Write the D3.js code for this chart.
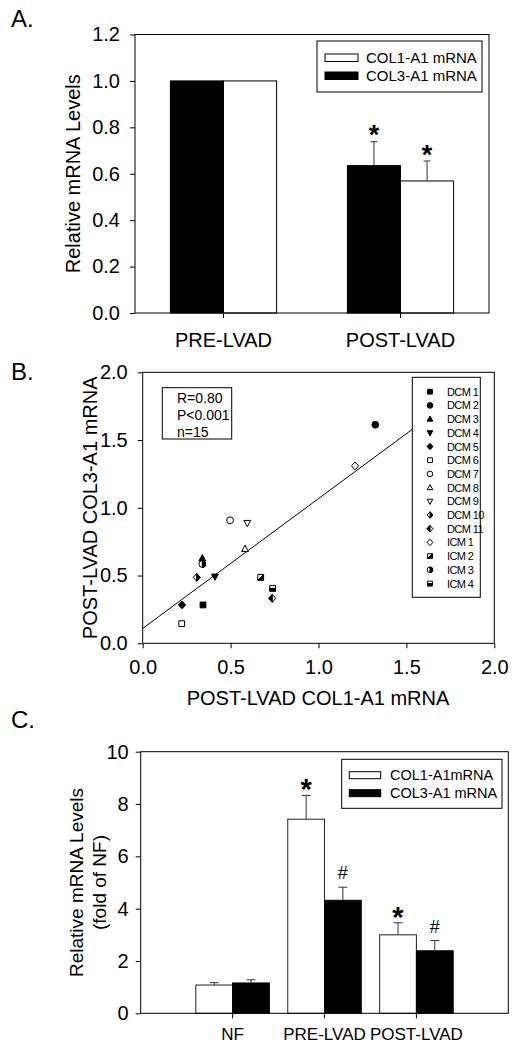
<!DOCTYPE html>
<html><head><meta charset="utf-8">
<script src="https://cdn.jsdelivr.net/npm/d3@7"></script>
<style>body{margin:0;background:#fff}svg{display:block}text{font-family:"Liberation Sans",Arial,sans-serif;fill:#000}</style>
</head><body><svg id="c" width="529" height="1050"></svg>
<script>
// ---------- Panel A data ----------
const catsA = ["PRE-LVAD", "POST-LVAD"];
const col3A = [1.0, 0.635];
const col3AErr = [0, 0.103];
const col1A = [1.0, 0.569];
const col1AErr = [0, 0.086];
const sigA3 = ["", "*"];
const sigA1 = ["", "*"];
const ticksA = [0, 0.2, 0.4, 0.6, 0.8, 1.0, 1.2];
const legendA = ["COL1-A1 mRNA", "COL3-A1 mRNA"];

// ---------- Panel B data ----------
const patients = ["DCM 1","DCM 2","DCM 3","DCM 4","DCM 5","DCM 6","DCM 7","DCM 8","DCM 9","DCM 10","DCM 11","ICM 1","ICM 2","ICM 3","ICM 4"];
const col1B = [0.343, 1.323, 0.339, 0.411, 0.224, 0.222, 0.497, 0.582, 0.595, 0.307, 0.737, 1.208, 0.671, 0.339, 0.739];
const col3B = [0.283, 1.613, 0.627, 0.492, 0.283, 0.145, 0.908, 0.696, 0.888, 0.487, 0.332, 1.309, 0.487, 0.585, 0.406];
const shapesB = ["square","circle","triangle","triangleDown","diamond","square","circle","triangle","triangleDown","diamond","diamond","diamond","square","circle","square"];
const fillsB = ["black","black","black","black","black","white","white","white","white","halfRight","halfLeft","white","lowerRight","halfRight","bottom"];
const regIntercept = 0.11, regSlope = 0.958;
const statsB = ["R=0.80", "P<0.001", "n=15"];
const ticksB = [0, 0.5, 1.0, 1.5, 2.0];

// ---------- Panel C data ----------
const catsC = ["NF", "PRE-LVAD", "POST-LVAD"];
const col1C = [1.08, 7.42, 3.0];
const col1CErr = [0.09, 0.91, 0.46];
const col3C = [1.16, 4.32, 2.39];
const col3CErr = [0.12, 0.50, 0.39];
const sigC1 = ["", "*", "*"];
const sigC3 = ["", "#", "#"];
const ticksC = [0, 2, 4, 6, 8, 10];
const legendC = ["COL1-A1mRNA", "COL3-A1 mRNA"];

const svg = d3.select("#c");

function styleAxis(g, fs) {
  g.select(".domain").remove();
  g.selectAll(".tick line").attr("stroke", "#000");
  g.selectAll(".tick text").attr("font-size", fs).attr("fill", "#000");
}
function errBar(g, x, y0, y1, cap) {
  g.append("line").attr("x1", x).attr("x2", x).attr("y1", y0).attr("y2", y1).attr("stroke", "#333");
  g.append("line").attr("x1", x - cap / 2).attr("x2", x + cap / 2).attr("y1", y1).attr("y2", y1).attr("stroke", "#333");
}

// ================= Panel A =================
{
  const L = 135, R = 489, T = 34.5, B = 313;
  const y = d3.scaleLinear().domain([0, 1.2]).range([B, T]);
  const x = d3.scaleBand().domain(catsA).range([L, R]).paddingInner(0.4).paddingOuter(0.2);
  const xs = d3.scaleBand().domain(["COL3", "COL1"]).range([0, x.bandwidth()]);
  const g = svg.append("g");
  catsA.forEach((c, i) => {
    g.append("rect").attr("x", x(c) + xs("COL3")).attr("y", y(col3A[i])).attr("width", xs.bandwidth()).attr("height", y(0) - y(col3A[i])).attr("fill", "#000").attr("stroke", "#000");
    g.append("rect").attr("x", x(c) + xs("COL1")).attr("y", y(col1A[i])).attr("width", xs.bandwidth()).attr("height", y(0) - y(col1A[i])).attr("fill", "#fff").attr("stroke", "#000");
    const cx3 = x(c) + xs("COL3") + xs.bandwidth() / 2, cx1 = x(c) + xs("COL1") + xs.bandwidth() / 2;
    if (col3AErr[i] > 0) errBar(g, cx3, y(col3A[i]), y(col3A[i] + col3AErr[i]), 7);
    if (col1AErr[i] > 0) errBar(g, cx1, y(col1A[i]), y(col1A[i] + col1AErr[i]), 7);
    g.append("text").attr("x", cx3).attr("y", y(col3A[i] + col3AErr[i]) + 2).attr("text-anchor", "middle").attr("font-size", 27).attr("font-weight", "bold").text(sigA3[i]);
    g.append("text").attr("x", cx1).attr("y", y(col1A[i] + col1AErr[i]) + 3).attr("text-anchor", "middle").attr("font-size", 27).attr("font-weight", "bold").text(sigA1[i]);
  });
  g.append("g").attr("transform", `translate(${L},0)`).call(d3.axisLeft(y).tickValues(ticksA).tickFormat(d3.format(".1f")).tickSize(5).tickPadding(10)).call(a => styleAxis(a, 20));
  g.append("g").attr("transform", `translate(0,${B})`).call(d3.axisBottom(x).tickSize(5).tickPadding(15)).call(a => styleAxis(a, 20));
  g.append("rect").attr("x", L).attr("y", T).attr("width", R - L).attr("height", B - T).attr("fill", "none").attr("stroke", "#000");
  // legend
  const lg = g.append("g");
  lg.append("rect").attr("x", 317).attr("y", 41).attr("width", 165).attr("height", 51).attr("fill", "#fff").attr("stroke", "#000");
  [["#fff", 54], ["#000", 72]].forEach(([f, yy], k) => {
    lg.append("rect").attr("x", 325).attr("y", yy).attr("width", 33).attr("height", 7.5).attr("fill", f).attr("stroke", "#000");
    lg.append("text").attr("x", 366).attr("y", yy + 8.5).attr("font-size", 15).text(legendA[k]);
  });
  g.append("text").attr("transform", `translate(80,${(T + B) / 2}) rotate(-90)`).attr("text-anchor", "middle").attr("font-size", 20).text("Relative mRNA Levels");
  g.append("text").attr("x", 11).attr("y", 27).attr("font-size", 24).text("A.");
}

// ================= Panel B =================
{
  const L = 142.7, R = 494.3, T = 372.3, B = 643.3;
  const x = d3.scaleLinear().domain([0, 2]).range([L, R]);
  const y = d3.scaleLinear().domain([0, 2]).range([B, T]);
  const g = svg.append("g");
  g.append("g").attr("transform", `translate(${L},0)`).call(d3.axisLeft(y).tickValues(ticksB).tickFormat(d3.format(".1f")).tickSize(5).tickPadding(10)).call(a => styleAxis(a, 20));
  g.append("g").attr("transform", `translate(0,${B})`).call(d3.axisBottom(x).tickValues(ticksB).tickFormat(d3.format(".1f")).tickSize(5).tickPadding(12)).call(a => styleAxis(a, 20));
  // regression line
  g.append("line").attr("x1", x(0)).attr("y1", y(regIntercept)).attr("x2", x(1.9)).attr("y2", y(regIntercept + regSlope * 1.9)).attr("stroke", "#000").attr("stroke-width", 1);

  function drawSym(sel, shape, fill, s) {
    const r = s;
    let full;
    if (shape === "square") full = `M${-r*0.85},${-r*0.85}H${r*0.85}V${r*0.85}H${-r*0.85}Z`;
    else if (shape === "circle") full = `M0,${-r}A${r},${r} 0 1 1 0,${r}A${r},${r} 0 1 1 0,${-r}Z`;
    else if (shape === "triangle") full = `M0,${-r*1.1}L${r},${r*0.75}L${-r},${r*0.75}Z`;
    else if (shape === "triangleDown") full = `M0,${r*1.1}L${r},${-r*0.75}L${-r},${-r*0.75}Z`;
    else full = `M0,${-r*1.15}L${r*1.05},0L0,${r*1.15}L${-r*1.05},0Z`;
    const solid = fill === "black";
    sel.append("path").attr("d", full).attr("fill", solid ? "#000" : "#fff").attr("stroke", "#000").attr("stroke-width", 1);
    let half = null;
    const q = r * 0.85;
    if (fill === "halfRight") half = shape === "circle" ? `M0,${-r}A${r},${r} 0 0 1 0,${r}Z` : `M0,${-r*1.15}L${r*1.05},0L0,${r*1.15}Z`;
    if (fill === "halfLeft") half = `M0,${-r*1.15}L${-r*1.05},0L0,${r*1.15}Z`;
    if (fill === "lowerRight") half = `M${q},${-q}L${q},${q}L${-q},${q}Z`;
    if (fill === "bottom") half = `M${-q},0H${q}V${q}H${-q}Z`;
    if (half) sel.append("path").attr("d", half).attr("fill", "#000").attr("stroke", "#000").attr("stroke-width", 1);
  }
  patients.forEach((p, i) => {
    const s = g.append("g").attr("transform", `translate(${x(col1B[i])},${y(col3B[i])})`);
    drawSym(s, shapesB[i], fillsB[i], 3.4);
  });
  // stats box
  g.append("rect").attr("x", 162.3).attr("y", 387.7).attr("width", 69.4).attr("height", 51.3).attr("fill", "#fff").attr("stroke", "#000");
  statsB.forEach((t, k) => g.append("text").attr("x", 177).attr("y", 403.3 + k * 16.7).attr("font-size", 14).text(t));
  // legend
  g.append("rect").attr("x", 412.3).attr("y", 377.3).attr("width", 68).attr("height", 220).attr("fill", "#fff").attr("stroke", "#000");
  patients.forEach((p, i) => {
    const yy = 391.7 + i * 13.7;
    const s = g.append("g").attr("transform", `translate(430,${yy})`);
    drawSym(s, shapesB[i], fillsB[i], 2.8);
    g.append("text").attr("x", 447).attr("y", yy + 4).attr("font-size", 11).attr("letter-spacing", -0.6).text(p);
  });
  g.append("rect").attr("x", L).attr("y", T).attr("width", R - L).attr("height", B - T).attr("fill", "none").attr("stroke", "#000");
  g.append("text").attr("transform", `translate(96.5,${(T + B) / 2}) rotate(-90)`).attr("text-anchor", "middle").attr("font-size", 20).text("POST-LVAD COL3-A1 mRNA");
  g.append("text").attr("x", (L + R) / 2 - 0.5).attr("y", 705).attr("text-anchor", "middle").attr("font-size", 20).text("POST-LVAD COL1-A1 mRNA");
  g.append("text").attr("x", 11).attr("y", 380).attr("font-size", 24).text("B.");
}

// ================= Panel C =================
{
  const L = 140.7, R = 508.3, T = 751.7, B = 1013.3;
  const y = d3.scaleLinear().domain([0, 10]).range([B, T]);
  const x = d3.scaleBand().domain(catsC).range([L, R]).paddingInner(0.2).paddingOuter(0.6);
  const xs = d3.scaleBand().domain(["COL1", "COL3"]).range([0, x.bandwidth()]);
  const g = svg.append("g");
  catsC.forEach((c, i) => {
    g.append("rect").attr("x", x(c) + xs("COL1")).attr("y", y(col1C[i])).attr("width", xs.bandwidth()).attr("height", y(0) - y(col1C[i])).attr("fill", "#fff").attr("stroke", "#222");
    g.append("rect").attr("x", x(c) + xs("COL3")).attr("y", y(col3C[i])).attr("width", xs.bandwidth()).attr("height", y(0) - y(col3C[i])).attr("fill", "#000").attr("stroke", "#000");
    const cx1 = x(c) + xs("COL1") + xs.bandwidth() / 2, cx3 = x(c) + xs("COL3") + xs.bandwidth() / 2;
    errBar(g, cx1, y(col1C[i]), y(col1C[i] + col1CErr[i]), 9);
    errBar(g, cx3, y(col3C[i]), y(col3C[i] + col3CErr[i]), 9);
    g.append("text").attr("x", cx1).attr("y", y(col1C[i] + col1CErr[i]) + 4).attr("text-anchor", "middle").attr("font-size", 29).attr("font-weight", "bold").text(sigC1[i]);
    g.append("text").attr("x", cx3).attr("y", y(col3C[i] + col3CErr[i]) - 8).attr("text-anchor", "middle").attr("font-size", 18).text(sigC3[i]);
  });
  g.append("g").attr("transform", `translate(${L},0)`).call(d3.axisLeft(y).tickValues(ticksC).tickFormat(d3.format("d")).tickSize(5).tickPadding(7)).call(a => styleAxis(a, 20));
  g.append("g").attr("transform", `translate(0,${B})`).call(d3.axisBottom(x).tickSize(5).tickPadding(10)).call(a => styleAxis(a, 17));
  g.append("rect").attr("x", L).attr("y", T).attr("width", R - L).attr("height", B - T).attr("fill", "none").attr("stroke", "#000");
  const lg = g.append("g");
  lg.append("rect").attr("x", 341.7).attr("y", 759.3).attr("width", 160.3).attr("height", 49).attr("fill", "#fff").attr("stroke", "#000");
  [["#fff", 771.7], ["#000", 789.7]].forEach(([f, yy], k) => {
    lg.append("rect").attr("x", 349.3).attr("y", yy).attr("width", 31.4).attr("height", 7).attr("fill", f).attr("stroke", "#000");
    lg.append("text").attr("x", 390).attr("y", yy + 8.3).attr("font-size", 14.5).text(legendC[k]);
  });
  const yl = g.append("text").attr("transform", `translate(83,${(T + B) / 2}) rotate(-90)`).attr("text-anchor", "middle").attr("font-size", 19);
  yl.append("tspan").attr("x", 0).attr("dy", 0).text("Relative mRNA Levels");
  yl.append("tspan").attr("x", 0).attr("dy", 22.5).text("(fold of NF)");
  g.append("text").attr("x", 11).attr("y", 728).attr("font-size", 24).text("C.");
}
</script></body></html>
